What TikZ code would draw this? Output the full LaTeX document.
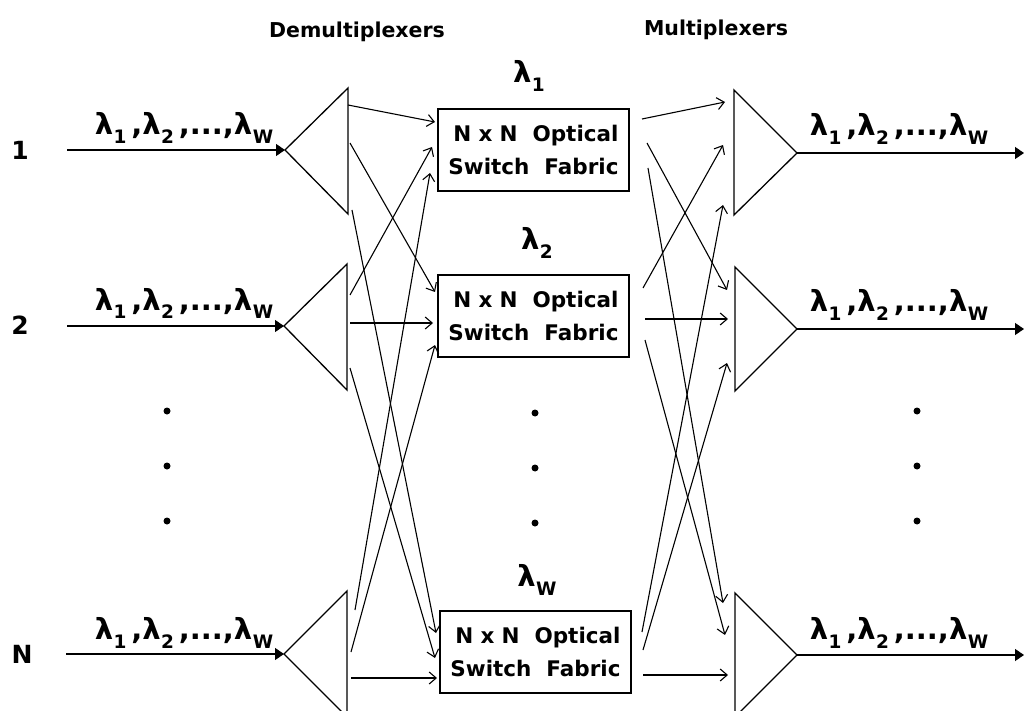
\documentclass[tikz,border=0pt]{standalone}
\usepackage{fontspec}
\setmainfont{DejaVu Sans}
\usetikzlibrary{arrows.meta}
\newcommand{\lsub}[1]{λ\kern0.5pt\raisebox{-9pt}{\fontsize{18.5}{18.5}\selectfont #1}}
\newcommand{\lamlist}{\lsub{1}\,,\lsub{2}\,,...,\lsub{W}}
\begin{document}
\begin{tikzpicture}[x=1pt,y=-1pt,
  tri/.style={line width=1.3pt,line join=miter},
  inline/.style={line width=1.3pt,-{Triangle[length=9pt,width=12pt]}},
  conn/.style={line width=1.1pt,-{Straight Barb[length=7pt,width=12pt,line width=1.1pt]}},
  fab/.style={draw,line width=1.4pt,minimum width=191pt,minimum height=82pt,inner sep=0pt,
    align=right,font=\bfseries\fontsize{21.5}{33}\selectfont},
  lam/.style={anchor=base,font=\bfseries\fontsize{29}{29}\selectfont,inner sep=0pt},
  rowlab/.style={font=\bfseries\fontsize{25}{25}\selectfont,inner sep=0pt},
  title/.style={font=\bfseries\fontsize{20.5}{20.5}\selectfont,inner sep=0pt},
  dot/.style={circle,fill=black,inner sep=0pt,minimum size=7pt}
]
\useasboundingbox (0,0) rectangle (1025,711);

% titles
\node[title] (tdemux) at (357,32) {Demultiplexers};
\node[title] (tmux) at (716,30) {Multiplexers};

% row labels
\node[rowlab] (r1) at (20,150) {1};
\node[rowlab] (r2) at (20,325) {2};
\node[rowlab] (rN) at (22,654) {N};

% switch fabrics
\node[fab] (s1) at (533.5,150) {N\,\,x\,\,N\ \ Optical\\Switch\ \ Fabric};
\node[fab] (s2) at (533.5,316) {N\,\,x\,\,N\ \ Optical\\Switch\ \ Fabric};
\node[fab] (sW) at (535.5,652) {N\,\,x\,\,N\ \ Optical\\Switch\ \ Fabric};

\node[lam] (l1) at (529,83) {\lsub{1}};
\node[lam] (l2) at (537,250) {\lsub{2}};
\node[lam] (lW) at (537,586) {\lsub{W}};

% demultiplexers
\coordinate (d1) at (285,150);
\coordinate (d2) at (284,326);
\coordinate (dN) at (284,654);
\draw[tri] (d1) -- (348,88) -- (348,214) -- cycle;
\draw[tri] (d2) -- (347,264) -- (347,390) -- cycle;
\draw[tri] (dN) -- (347,591) -- (347,717) -- cycle;

% multiplexers
\coordinate (m1) at (797,153);
\coordinate (m2) at (797,329);
\coordinate (mN) at (797,655);
\draw[tri] (m1) -- (734,90) -- (734,215) -- cycle;
\draw[tri] (m2) -- (735,267) -- (735,391) -- cycle;
\draw[tri] (mN) -- (735,593) -- (735,717) -- cycle;

% input / output lines
\coordinate (in1) at (67,150);
\coordinate (in2) at (67,326);
\coordinate (inN) at (66,654);
\coordinate (out1) at (1024,153);
\coordinate (out2) at (1024,329);
\coordinate (outN) at (1024,655);
\draw[inline] (in1) -- (d1);
\draw[inline] (in2) -- (d2);
\draw[inline] (inN) -- (dN);
\draw[inline] (m1) -- (out1);
\draw[inline] (m2) -- (out2);
\draw[inline] (mN) -- (outN);

\node[lam] (a1) at (184,135) {\lamlist};
\node[lam] (a2) at (184,310) {\lamlist};
\node[lam] (aN) at (184,639) {\lamlist};
\node[lam] (b1) at (899,136) {\lamlist};
\node[lam] (b2) at (899,312) {\lamlist};
\node[lam] (bN) at (899,639) {\lamlist};

% demux output ports
\coordinate (d1a) at (348,105); \coordinate (d1b) at (350,143); \coordinate (d1c) at (352,210);
\coordinate (d2a) at (350,295); \coordinate (d2b) at (350,323); \coordinate (d2c) at (350,368);
\coordinate (dNa) at (355,610); \coordinate (dNb) at (351,652); \coordinate (dNc) at (351,678);
% fabric input ports
\coordinate (s1a) at (435,122); \coordinate (s1b) at (432,147); \coordinate (s1c) at (430,173);
\coordinate (s2a) at (435,292); \coordinate (s2b) at (433,323); \coordinate (s2c) at (435,345);
\coordinate (sWa) at (436,633); \coordinate (sWb) at (435,658); \coordinate (sWc) at (437,678);
% fabric output ports
\coordinate (o1a) at (642,119); \coordinate (o1b) at (647,143); \coordinate (o1c) at (648,168);
\coordinate (o2a) at (643,288); \coordinate (o2b) at (645,319); \coordinate (o2c) at (645,340);
\coordinate (oWa) at (642,632); \coordinate (oWb) at (643,650); \coordinate (oWc) at (643,675);
% mux input ports
\coordinate (m1a) at (725,102); \coordinate (m1b) at (723,145); \coordinate (m1c) at (723,205);
\coordinate (m2a) at (727,290); \coordinate (m2b) at (728,319); \coordinate (m2c) at (727,363);
\coordinate (mNa) at (723,603); \coordinate (mNb) at (725,635); \coordinate (mNc) at (728,675);

% left connectors
\draw[conn] (d1a) -- (s1a);
\draw[conn] (d1b) -- (s2a);
\draw[conn] (d1c) -- (sWa);
\draw[conn] (d2a) -- (s1b);
\draw[conn] (d2b) -- (s2b);
\draw[conn] (d2c) -- (sWb);
\draw[conn] (dNa) -- (s1c);
\draw[conn] (dNb) -- (s2c);
\draw[conn] (dNc) -- (sWc);
% right connectors
\draw[conn] (o1a) -- (m1a);
\draw[conn] (o1b) -- (m2a);
\draw[conn] (o1c) -- (mNa);
\draw[conn] (o2a) -- (m1b);
\draw[conn] (o2b) -- (m2b);
\draw[conn] (o2c) -- (mNb);
\draw[conn] (oWa) -- (m1c);
\draw[conn] (oWb) -- (m2c);
\draw[conn] (oWc) -- (mNc);

% dots
\foreach \yy [count=\i] in {411,466,521} {
  \node[dot] (dl\i) at (167,\yy) {};
  \node[dot] (dm\i) at (535,\yy+2) {};
  \node[dot] (dr\i) at (917,\yy) {};
}
\end{tikzpicture}
\end{document}
